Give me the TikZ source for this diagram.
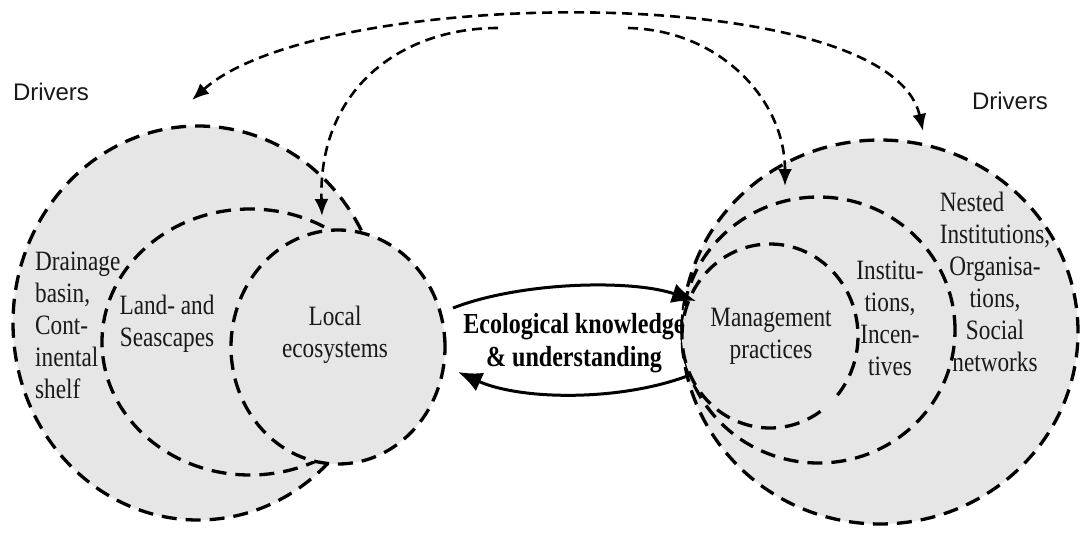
\documentclass[tikz,border=0pt]{standalone}
\usepackage{fontspec}
\setmainfont{Liberation Serif}[FakeStretch=0.83]
\newfontfamily\drvfont{Liberation Sans}
\usetikzlibrary{shapes.geometric,arrows.meta}
\definecolor{zonefill}{RGB}{230,230,230}
\definecolor{ink}{RGB}{25,25,25}
\tikzset{
  zone/.style={ellipse, draw=black, fill=zonefill, line width=3.3pt, dash pattern=on 15pt off 9pt, inner sep=0pt},
  zoneline/.style={draw=black, line width=3.3pt, dash pattern=on 15pt off 9pt},
  lbl/.style={font=\fontsize{28}{32}\selectfont, text=ink, align=center, inner sep=0pt},
  lbll/.style={font=\fontsize{28}{32}\selectfont, text=ink, align=left, inner sep=0pt},
  know/.style={draw=black, line width=3pt, -{Latex[length=24pt,width=20pt]}},
  knowlbl/.style={font=\fontsize{29}{33}\selectfont\bfseries, text=black, align=center, inner sep=0pt},
  flow/.style={draw=black, line width=2.6pt, dash pattern=on 10pt off 6pt},
  flowtip/.style={-{Latex[length=17pt,width=14pt]}},
  drv/.style={font=\drvfont\fontsize{24}{28}\selectfont, text=ink, inner sep=0pt}
}
\begin{document}
\begin{tikzpicture}[x=1pt,y=-1pt]
\useasboundingbox (0,0) rectangle (1085,538);
% left nested zones
\node[zone, minimum width=370pt, minimum height=394pt] (basin) at (198,323) {};
\node[zone, minimum width=296pt, minimum height=266pt] (land) at (250,342) {};
\node[zone, minimum width=214pt, minimum height=234pt] (local) at (338,347) {};
% right nested zones
\node[zone, minimum width=396pt, minimum height=384pt] (nested) at (880,332) {};
\node[zone, minimum width=273pt, minimum height=266pt] (inst) at (818.5,330) {};
\node[zone, draw=none, minimum width=176pt, minimum height=184pt] (mgmt) at (770,336) {};
\draw[zoneline] (mgmt.center) ++(55:88 and 92) arc[start angle=55, end angle=400, x radius=88, y radius=92];
% labels
\node[drv] (drvL) at (51,92) {Drivers};
\node[drv] (drvR) at (1010,101) {Drivers};
\node[lbll, anchor=west] (tbasin) at (35,325) {Drainage\\basin,\\Cont-\\inental\\shelf};
\node[lbl] (tland) at (167,324) {Land- and\\Seascapes};
\node[lbl] (tlocal) at (335,335) {Local\\ecosystems};
\node[lbl] (tmgmt) at (771,336) {Management\\practices};
\node[lbl] (tinst) at (890,318) {Institu-\\tions,\\Incen-\\tives};
\node[lbl] (tnested) at (995,282) {\rlap{Nested}\hphantom{Institutions,}\\Institutions,\\Organisa-\\tions,\\Social\\networks};
\node[knowlbl] (tknow) at (574,343) {Ecological knowledge\\\& understanding};
% knowledge exchange connectors
\coordinate (k1) at (453,308);
\coordinate (k2) at (696,301);
\coordinate (k3) at (690,375);
\coordinate (k4) at (458,372);
\draw[know] (k1) .. controls (520,282) and (630,279) .. (k2);
\draw[know] (k3) .. controls (620,402) and (520,400) .. (k4);
% driver connectors
\coordinate (dL) at (192,100);
\coordinate (dR) at (923,131);
\coordinate (iL1) at (498,28);
\coordinate (iL2) at (322,216);
\coordinate (iR1) at (628,28);
\coordinate (iR2) at (785,186);
\draw[flow, {Latex[length=17pt,width=14pt]}-{Latex[length=17pt,width=14pt]}] (dL) .. controls (320,-15) and (890,-20) .. (dR);
\draw[flow, flowtip] (iL1) .. controls (400,28) and (318,90) .. (iL2);
\draw[flow, flowtip] (iR1) .. controls (720,30) and (785,100) .. (iR2);
\end{tikzpicture}
\end{document}
